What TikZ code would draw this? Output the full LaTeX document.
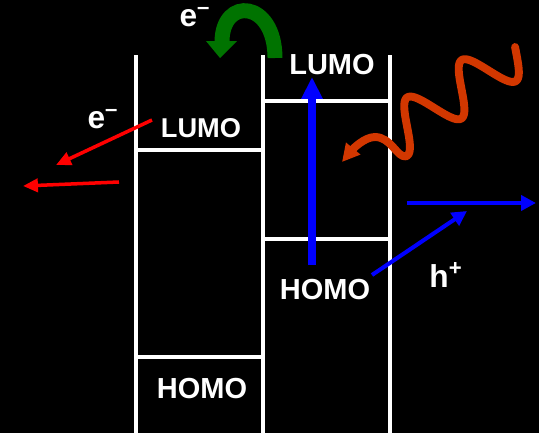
\documentclass[tikz,border=0pt]{standalone}
\usepackage{fontspec}
\setmainfont{Liberation Sans}
\usetikzlibrary{arrows.meta}
\definecolor{wavecol}{RGB}{210,55,0}
\definecolor{arcgreen}{RGB}{0,115,0}
\tikzset{
  level/.style={draw=white, line width=2.3pt},
  lbl/.style={text=white, font=\fontsize{16.5}{16.5}\selectfont\bfseries, inner sep=0pt, anchor=base},
  carrier/.style={text=white, font=\fontsize{18}{18}\selectfont\bfseries, inner sep=0pt, anchor=base, text height=0.5em},
  redarrow/.style={draw=red, line width=2pt, -{Triangle[length=8.5pt,width=7.5pt]}},
  bluearrow/.style={draw=blue, line width=2.3pt, -{Triangle[length=8.5pt,width=8.5pt]}},
}
\begin{document}
\begin{tikzpicture}[x=0.02cm,y=-0.02cm]
\fill[black] (0,0) rectangle (539,433);
\useasboundingbox (0,0) rectangle (539,433);
% vertical lines
\coordinate (l1t) at (136,55); \coordinate (l1b) at (136,434);
\coordinate (l2t) at (263,55); \coordinate (l2b) at (263,434);
\coordinate (l3t) at (390,55); \coordinate (l3b) at (390,434);
\draw[level] (l1t) -- (l1b);
\draw[level] (l2t) -- (l2b);
\draw[level] (l3t) -- (l3b);
% levels
\draw[level] (136,150) -- (263,150);
\draw[level] (136,357) -- (263,357);
\draw[level] (263,101) -- (390,101);
\draw[level] (263,239) -- (390,239);
% labels
\node[lbl, font=\fontsize{15.5}{15.5}\selectfont\bfseries] (lumoA) at (201,137) {LUMO};
\node[lbl] (homoA) at (202,398) {HOMO};
\node[lbl] (lumoB) at (332,74) {LUMO};
\node[lbl] (homoB) at (325,299) {HOMO};
\node[carrier] (eTop) at (195,26) {e\textsuperscript{–}};
\node[carrier] (eLeft) at (103,128) {e\textsuperscript{–}};
\node[carrier] (hPlus) at (446,287) {h\textsuperscript{+}};
% green arc arrow
\coordinate (gS) at (275,58);
\coordinate (gE) at (222,42);
\draw[arcgreen, line width=8.5pt] (gS) .. controls (275,0) and (222,-4) .. (gE);
\fill[arcgreen] (206,41) -- (237,41) -- (220,58) -- cycle;
% blue vertical excitation
\coordinate (bvS) at (312,265);
\coordinate (bvE) at (312,77);
\draw[draw=blue, line width=4.3pt, -{Triangle[length=12.5pt,width=11.5pt]}] (bvS) -- (bvE);
% blue hole arrows
\coordinate (bdS) at (372,275); \coordinate (bdE) at (467,211);
\draw[bluearrow] (bdS) -- (bdE);
\coordinate (bhS) at (407,203); \coordinate (bhE) at (536,203);
\draw[bluearrow] (bhS) -- (bhE);
% red electron arrows
\coordinate (r1S) at (152,120); \coordinate (r1E) at (56,165);
\draw[redarrow] (r1S) -- (r1E);
\coordinate (r2S) at (119,182); \coordinate (r2E) at (23,186);
\draw[redarrow] (r2S) -- (r2E);
% wavy photon (tilted sine wave)
\coordinate (wTip) at (342,162);
\draw[wavecol, line width=4.5pt, line cap=round, line join=round, -{Triangle[length=10pt,width=10pt]}]
  plot[domain=-2:150, samples=160, smooth, variable=\s]
    ({516 - 0.825*\s + 13.58*sin(5.4545*\s)}, {51.9 + 0.566*\s + 19.8*sin(5.4545*\s)})
  .. controls (397,157.5) and (391,137) .. (375,137)
  .. controls (364,137) and (352,150) .. (wTip);
\end{tikzpicture}
\end{document}
